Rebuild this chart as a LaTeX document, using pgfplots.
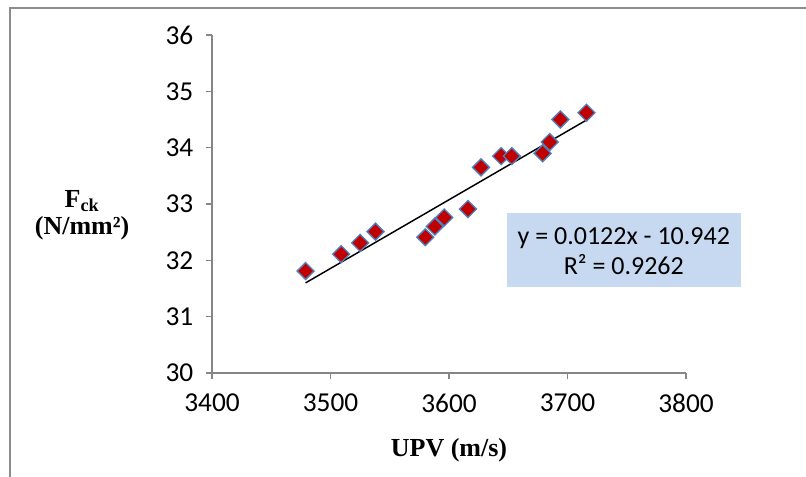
\documentclass[border=0pt]{standalone}
\usepackage{pgfplots}
\pgfplotsset{compat=1.18}
\usepackage{fontspec}
\setmainfont{Liberation Serif}
\newfontfamily\calibri{Carlito}

\definecolor{axgray}{HTML}{868686}
\definecolor{markred}{HTML}{C00000}
\definecolor{markblue}{HTML}{4F81BD}
\definecolor{boxblue}{HTML}{C6D9F1}
\definecolor{framegray}{HTML}{8C8C8C}

\begin{document}
\begin{tikzpicture}
% page = 806x476 px, 1px = 0.75pt, axis origin at px (212,373)
\path[use as bounding box] (-159pt,-77.25pt) rectangle (445.5pt,279.75pt);
\draw[framegray, line width=1.5pt] (-151.5pt,-80pt) -- (-151.5pt,273.75pt) -- (450pt,273.75pt);

\begin{axis}[
    scale only axis,
    width=355.5pt, height=253.5pt,
    xmin=3400, xmax=3800,
    ymin=30, ymax=36,
    xtick={3400,3500,...,3800},
    ytick={30,31,...,36},
    axis lines=left,
    axis line style={axgray, line width=0.9pt, -},
    tick style={axgray, line width=0.9pt},
    tick align=outside,
    major tick length=4.5pt,
    minor tick num=0,
    x axis line style={-}, y axis line style={-},
    /pgf/number format/assume math mode=true,
    /pgf/number format/1000 sep={},
    tick label style={font=\calibri\fontsize{20.5}{22}\selectfont, text=black},
    xticklabel style={yshift=-7.5pt},
    yticklabel style={xshift=-6pt},
    clip=false,
    xlabel={\textbf{UPV (m/s)}},
    every axis x label/.style={at={(rel axis cs:0.5,-0.228)}, anchor=center,
        font=\fontsize{19.5}{22}\selectfont},
    ylabel={\textbf{F\textsubscript{ck}}\\\textbf{(N/mm²)}},
    every axis y label/.style={at={(rel axis cs:-0.274,0.467)}, anchor=center,
        align=center, font=\fontsize{19.5}{20.5}\selectfont},
]
\fill[boxblue] (axis cs:3649,31.53) rectangle (axis cs:3846,32.84);
\node[align=center, font=\calibri\fontsize{19.5}{22.5}\selectfont, text=black]
    at (axis cs:3747.5,32.17) {y = 0.0122x - 10.942\\R² = 0.9262};

\addplot[black, line width=1.1pt, mark=none] coordinates {(3479,31.60) (3716,34.49)};

\addplot[only marks, mark=square*, mark size=4.5pt,
    mark options={rotate=45, fill=markred, draw=markblue, line width=1pt}]
    coordinates {
    (3479,31.81) (3509,32.11) (3525,32.31) (3538,32.51) (3580,32.41)
    (3588,32.60) (3596,32.76) (3616,32.91) (3627,33.65) (3644,33.85)
    (3653,33.85) (3679,33.90) (3685,34.10) (3694,34.50) (3716,34.62)
    };
\end{axis}
\end{tikzpicture}
\end{document}
